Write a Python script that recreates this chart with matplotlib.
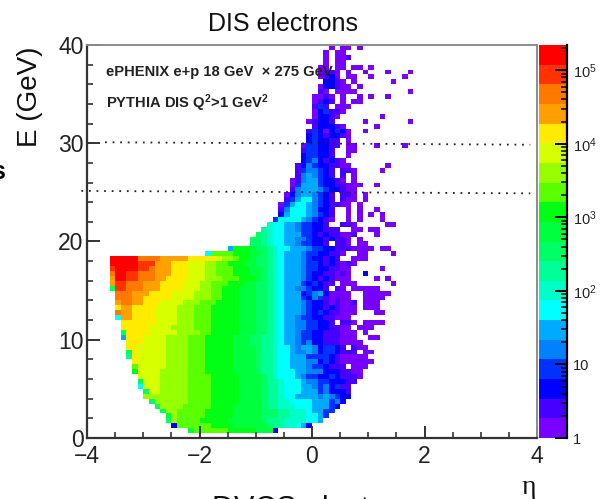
import numpy as np
import matplotlib
matplotlib.use('Agg')
from matplotlib import pyplot as plt
from matplotlib.colors import ListedColormap, LogNorm

plt.rcParams['font.family'] = ['Liberation Sans', 'DejaVu Sans']
plt.rcParams['mathtext.fontset'] = 'custom'
plt.rcParams['mathtext.rm'] = 'Liberation Sans'
plt.rcParams['mathtext.bf'] = 'Liberation Sans:bold'

# our data
# ====

# colour bands of the z axis, bottom to top
band_colors = ['#7800ff', '#4600ff', '#0000ff', '#0032ff', '#0082ff',
               '#00aaff', '#00ffff', '#00ffc8', '#00ff96', '#00ff64',
               '#00ff3c', '#00ff14', '#5aff00', '#96ff00', '#d7ff00',
               '#ffeb00', '#ffa000', '#ff7800', '#ff3200', '#ff0000']
band_codes = '0123456789abcdefghij'
z_max = 2.2e5

# one row per E bin, top (39.5-40) to bottom (0.5-1), 0.1 wide eta bins from -4
# each token is band code + number of bins, '.' is an empty bin
rows = [
    '.43 01 .1 02 .1 01',
    '.42 01 .1 02',
    '.42 01 .1 02 11',
    '.42 01 .1 02',
    '.41 02 .1 02 .1 02 .1 01',
    '.41 01 12 01 .1 01 .2 01 .3 01 .3 01',
    '.41 01 11 21 01 .1 02 .2 01 .5 01',
    '.42 22 11 01 .1 01 .6 01',
    '.41 01 22 11 02 .1 01',
    '.41 11 01 .1 04 .9 01',
    '.40 02 11 01 .1 01 .2 01 .1 01 .2 01',
    '.40 01 11 21 11 .1 01 .1 02',
    '.40 11 31 11 .1 03',
    '.40 01 21 31 11 11 01',
    '.40 01 21 21 11 01 .7 01',
    '.39 01 11 22 11 .5 01 .7 01',
    '.40 11 22 21 11 01 .5 01',
    '.39 11 31 21 01 21 31 21 01 .2 01',
    '.39 21 31 21 11 22 11 01',
    '.39 21 31 21 21 11 11 .1 01',
    '.38 01 32 22 11 11 .1 02 .3 01 .4 01',
    '.38 11 32 22 11 .2 02',
    '.38 21 32 22 11 .2 01',
    '.38 21 31 41 21 11 21 11 01',
    '.37 11 21 41 31 21 21 11 11 01 01 .6 01',
    '.37 11 31 42 31 21 11 .1 12 01 .4 01',
    '.37 11 41 51 41 31 21 11 .1 11 .1 01',
    '.36 01 11 41 52 31 21 21 11 01 .1 01',
    '.36 01 31 51 52 31 21 21 12 03 .2 01',
    '.36 11 41 53 41 31 21 21 11 01 01',
    '.35 01 21 41 52 41 31 21 11 .1 12 01 .1 01',
    '.35 11 31 51 62 41 31 21 11 .1 11 02 .1 01',
    '.34 01 31 51 62 51 41 31 21 12 02 .1 01',
    '.34 11 41 61 62 51 41 21 21 11 .2 01 .1 01 .2 01',
    '.34 21 51 62 61 51 41 31 21 11 .2 01 .1 01 .1 01 .1 01',
    '.33 31 61 63 51 41 31 21 11 01 .2 01 .1 01 .3 01',
    '.32 71 62 52 41 32 22 11 .2 12 01 .5 02',
    '.31 81 71 62 52 41 32 22 13 .2 02 .1 02',
    '.30 91 81 71 62 53 32 21 11 21 12 02 11 .3 01',
    '.29 92 81 71 62 52 42 31 22 11 21 12 01 .1 01',
    '.29 92 81 71 62 52 41 32 22 11 .1 11 11 01 .1 02',
    '.25 51 b3 a1 92 81 71 62 53 41 32 22 13 04 .1 02',
    '.21 61 c4 b3 a2 91 81 71 61 53 41 32 22 12 01 .2 02 .4 01',
    '.4 j5 h4 g5 f5 e1 d2 c1 b2 a1 92 81 71 61 53 41 31 22 11 21 11 .2 03',
    '.4 j5 i3 g3 f3 e3 d2 c2 b3 a2 92 81 71 61 53 41 32 21 11 21 11 01 11 01',
    '.4 i1 j4 i2 h1 g3 f3 e3 d2 c3 b3 a2 91 81 71 61 53 41 32 22 12 02 .5 01',
    '.4 h1 j2 i2 h3 g3 f3 e3 d2 c3 b3 a2 91 81 71 61 53 41 31 21 21 11 11 01 11 01 .2 21',
    '.4 g1 j2 i2 h3 g2 f4 e3 d3 c3 b3 a1 91 81 71 61 53 41 31 21 11 21 11 01 02 .4 01 .1 01',
    '.4 g1 i2 h3 g3 f4 e3 d2 c3 b3 a2 92 81 71 61 53 31 21 31 21 11 11 .1 03 .6 01',
    '.4 91 i2 h3 g3 f4 e3 d2 c2 b3 a3 92 81 71 61 52 42 31 22 11 .1 11 01 .1 05',
    '.5 h3 g3 f4 e4 d3 c2 b3 a3 92 81 71 61 53 21 31 41 51 21 01 01 02 .2 05',
    '.5 h3 g2 f5 e4 d3 c2 b3 a3 92 81 71 61 53 31 21 41 31 11 01 11 02 .2 04',
    '.5 g1 h2 g2 f3 e4 d3 c3 b4 a3 92 81 71 61 53 41 31 22 11 01 11 02 11 .1 03',
    '.5 f1 g2 f4 e4 d3 c3 b5 a3 92 81 71 61 53 41 31 22 11 21 11 03 .1 03',
    '.5 h1 g2 f4 e4 d3 c3 b5 a3 92 81 71 61 53 41 31 21 31 21 12 03 .3 02',
    '.5 61 g2 f4 e4 d3 c3 b5 a3 92 81 71 61 52 41 31 31 22 11 11 03',
    '.6 f6 e4 d3 c3 b5 a3 92 81 71 61 52 42 32 22 11 .1 12 01 .1 04',
    '.6 f5 e4 d4 c3 b5 a3 92 81 71 61 52 41 41 32 22 12 02 .1 03',
    '.6 91 f4 e5 d4 c2 b5 a3 92 81 71 61 52 41 32 22 13 03 .1 01',
    '.6 51 f3 e4 d4 c3 b5 a3 92 82 71 61 52 41 32 22 13 03 .2 02',
    '.7 f3 e4 d4 c3 b5 a3 92 82 71 61 52 41 31 41 22 13 04',
    '.7 f2 e5 d4 c3 b5 a4 91 82 71 62 51 41 52 41 21 32 21 11 .1 11 02',
    '.7 91 f1 e5 d4 c3 b5 a4 91 82 71 62 51 42 51 41 21 32 21 13 .1 02',
    '.7 81 f1 e5 d4 c3 b5 a4 91 82 71 62 53 34 21 11 05',
    '.8 f1 e5 d4 c3 b5 a4 91 82 71 62 53 42 21 31 21 11 06',
    '.8 c1 e5 d4 c3 b5 a4 91 82 71 62 53 41 32 21 13 .1 03',
    '.8 b1 e4 d5 c3 b5 a4 91 82 71 63 52 43 23 12 02',
    '.9 e4 d5 c4 b5 a4 91 81 71 63 51 41 32 22 31 21 13 01',
    '.9 91 e3 d5 c4 b5 a4 91 81 81 71 63 51 42 32 23 12',
    '.9 61 e3 d5 c4 b5 a4 91 81 81 71 63 52 41 31 41 21 31 12',
    '.10 91 e2 d5 c4 b5 a4 91 81 81 71 63 53 31 41 23 11',
    '.10 d8 c4 b5 a4 91 81 81 71 62 54 41 51 41 31 22',
    '.11 91 d6 c4 b5 a4 91 81 81 72 64 53 31 41 21',
    '.12 91 d4 c5 b4 a5 91 81 81 73 63 53 31 21',
    '.13 91 d2 c5 b5 a5 92 91 82 73 61 52 32',
    '.14 a1 d1 c5 b5 a5 92 91 82 73 62 51 31',
    '.14 91 d1 c4 b5 a6 91 81 82 74 62 51',
    '.15 21 c6 b4 a6 91 81 81 72 61 51 21',
    '.18 a1 c6 b5 a3 21',
]

eta_edges = np.arange(81) * 0.1 - 4
e_edges = np.arange(81) * 0.5

x_ticks = [-4, -2, 0, 2, 4]
x_labels = ['\u22124', '\u22122', '0', '2', '4']
y_ticks = [0, 10, 20, 30, 40]
z_ticks = [1, 10, 100, 1000, 10000, 100000]
z_labels = ['1', '10', r'$\mathregular{10^{2}}$', r'$\mathregular{10^{3}}$',
            r'$\mathregular{10^{4}}$', r'$\mathregular{10^{5}}$']

# slightly tilted dotted guide lines drawn over the plot
line_upper_eta = [-3.68, 3.88]
line_upper_e = [30.1, 29.85]
line_lower_eta = [-4.1, 3.88]
line_lower_e = [25.15, 24.9]

# build the grid
# ====
counts = np.full((80, 80), np.nan)
top_row = 79
for i, row in enumerate(rows):
    col = 0
    for tok in row.split():
        n = int(tok[1:])
        if tok[0] != '.':
            band = band_codes.index(tok[0])
            counts[top_row - i, col:col + n] = z_max ** ((band + 0.5) / 20)
        col += n

# plotting
# =====
W, H = 600, 499
fig = plt.figure(figsize=(W / 100, H / 100), dpi=100)
ax = fig.add_axes([87 / W, 1 - 438 / H, 450 / W, 393 / H])
cax = fig.add_axes([539 / W, 1 - 438 / H, 28 / W, 393 / H])

cmap = ListedColormap(band_colors)
norm = LogNorm(1, z_max)
mesh = ax.pcolormesh(eta_edges, e_edges, np.ma.masked_invalid(counts),
                     cmap=cmap, norm=norm, linewidth=0, rasterized=True)

ax.set_xlim(-4, 4)
ax.set_ylim(0, 40)
ax.set_xticks(x_ticks, x_labels)
ax.set_yticks(y_ticks)
ax.set_xticks(np.arange(-4, 4.01, 0.5), minor=True)
ax.set_yticks(np.arange(0, 40.01, 2), minor=True)
dark = '#333333'
ax.tick_params(which='major', direction='in', length=9, width=1.4, color=dark,
               labelsize=16.5, labelcolor='#222222', pad=5)
ax.tick_params(which='minor', direction='in', length=4.5, width=1.2, color=dark)
ax.tick_params(axis='y', which='major', pad=2.5)
for side in ['left', 'bottom']:
    ax.spines[side].set_linewidth(1.6)
    ax.spines[side].set_color(dark)
for side in ['top', 'right']:
    ax.spines[side].set_linewidth(1.4)
    ax.spines[side].set_color('#8c8c8c')

ax.plot(line_upper_eta, line_upper_e, color='#222222', ls=(0, (1, 3.2)), lw=1.3,
        clip_on=False, zorder=5)
ax.plot(line_lower_eta, line_lower_e, color='#222222', ls=(0, (1, 3.2)), lw=1.3,
        clip_on=False, zorder=5)

ax.text(-3.67, 37.25, 'ePHENIX e+p 18 GeV  \u00d7 275 GeV', fontsize=10.6,
        fontweight='bold', color='#222222', va='center')
ax.text(-3.67, 34.1, r'PYTHIA DIS Q$\mathbf{^{2}}$>1 GeV$\mathbf{^{2}}$', fontsize=10.6,
        fontweight='bold', color='#222222', va='center')

cb = fig.colorbar(mesh, cax=cax)
cb.outline.set_visible(False)
cax.set_yticks(z_ticks, z_labels)
cax.tick_params(which='major', direction='in', length=9, width=1.4, color='black',
                labelsize=10.5, labelcolor='#222222', pad=4, right=True)
cax.tick_params(which='minor', direction='in', length=4.5, width=1.1, color='black',
                labelright=False)
cax.spines['right'].set_visible(True)
cax.spines['right'].set_linewidth(1.6)
cax.spines['right'].set_color('black')

fig.text(283 / W, 1 - 24 / H, 'DIS electrons', fontsize=18, ha='center', va='center',
         color='#111111')
fig.text(30 / W, 1 - 97 / H, 'E (GeV)', fontsize=20, rotation=90, ha='center',
         va='center', color='#111111')
fig.text(5 / W, 1 - 172 / H, 's', fontsize=18, ha='right', va='center', color='black',
         fontweight='bold')
fig.text(529 / W, 1 - 488 / H, '\u03b7', fontsize=20, ha='center', va='center',
         family='Liberation Serif', color='#111111')
fig.text(212 / W, 1 - 495 / H, 'DVCS electrons', fontsize=22, ha='left', va='top',
         color='#111111')

fig.savefig('out.png', dpi=100)
